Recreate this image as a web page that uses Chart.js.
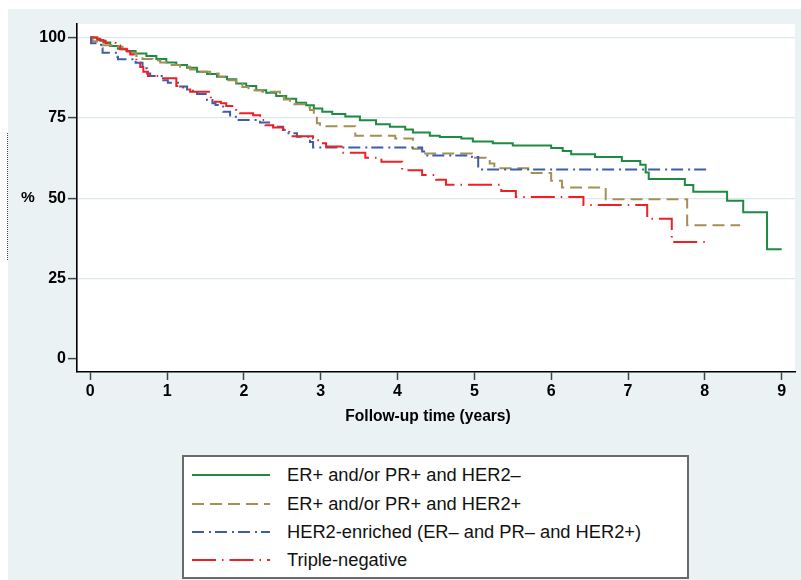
<!DOCTYPE html>
<html>
<head>
<meta charset="utf-8">
<script src="https://cdn.jsdelivr.net/npm/chart.js@4"></script>
<style>
  html, body { margin: 0; padding: 0; background: #ffffff; }
  #wrap { position: relative; width: 801px; height: 580px; overflow: hidden; font-family: "Liberation Sans", Arial, sans-serif; }
  #bg { position: absolute; left: 8px; top: 9px; width: 793px; height: 571px; background: #eaf2f3; }
  #c { position: absolute; left: 0; top: 0; }
  #pct { position: absolute; left: 21px; top: 188px; font-weight: bold; font-size: 15.5px; color: #000; }
  #xtitle { position: absolute; left: 0; width: 856px; top: 407px; text-align: center; font-weight: bold; font-size: 15.6px; color: #000; }
  #dots { position: absolute; left: 7px; top: 133px; height: 127px; border-left: 1px dotted #444; }
  #legend { position: absolute; left: 182px; top: 455px; width: 503px; height: 120px; background: #fff; border: 2px solid #6a6a6a; }
  .item { position: absolute; left: 8px; height: 22px; display: flex; align-items: center; font-size: 18.3px; color: #111; white-space: nowrap; }
  .item svg { width: 80px; height: 6px; margin-right: 15px; flex: none; }
</style>
</head>
<body>
<div id="wrap">
  <div id="bg"></div>
  <div id="dots"></div>
  <canvas id="c" width="801" height="440"></canvas>
  <div id="pct">%</div>
  <div id="xtitle">Follow-up time (years)</div>
  <div id="legend"></div>
</div>
<script>
// ---- data (time in years, survival in %) ----
const seriesNames = [
  "ER+ and/or PR+ and HER2\u2013",
  "ER+ and/or PR+ and HER2+",
  "HER2-enriched (ER\u2013 and PR\u2013 and HER2+)",
  "Triple-negative"
];
const xTickValues = [0, 1, 2, 3, 4, 5, 6, 7, 8, 9];
const yTickValues = [0, 25, 50, 75, 100];

const greenT = [0,0.09,0.17,0.26,0.36,0.47,0.59,0.73,0.86,0.99,1.12,1.26,1.39,1.52,1.65,1.78,1.90,2.03,2.16,2.29,2.42,2.55,2.68,2.81,2.91,3.02,3.15,3.32,3.51,3.72,3.90,4.10,4.20,4.42,4.55,4.83,4.98,5.24,5.50,6.00,6.15,6.26,6.57,6.92,7.16,7.23,7.27,7.74,7.85,8.29,8.50,8.81,9.00];
const greenS = [100,99.2,98.4,97.3,96.5,95.8,95.0,94.2,93.3,92.2,91.4,90.6,89.3,88.6,87.8,87.0,85.7,84.9,83.6,82.8,81.8,80.9,79.7,78.9,77.9,76.9,76.2,75.4,74.2,73.0,72.2,71.4,70.4,69.4,69.0,68.6,67.6,67.1,66.4,65.6,64.7,63.7,62.8,61.6,60.4,58.0,56.0,54.1,52.0,49.2,45.6,34.1,34.1];

const tanT = [0,0.03,0.09,0.33,0.42,0.52,0.60,0.68,0.81,0.91,1.04,1.17,1.30,1.43,1.56,1.67,1.80,1.90,1.98,2.06,2.24,2.47,2.52,2.60,2.80,2.86,2.91,2.95,2.99,3.45,3.97,4.20,4.32,4.97,5.15,5.20,5.26,5.70,6.00,6.14,6.71,7.77,8.46];
const tanS = [100,98.8,97.6,97.1,96.3,95.2,94.2,93.3,92.8,92.2,91.4,90.9,90.0,89.3,88.8,87.8,86.7,85.6,84.6,83.6,83.1,82.1,80.7,79.2,78.3,77.4,75.8,73.3,72.4,69.4,68.6,65.4,63.9,62.6,62.1,60.8,59.3,57.8,55.4,53.3,49.7,41.6,41.6];

const blueT = [0,0.01,0.14,0.16,0.35,0.36,0.59,0.68,0.74,0.78,0.95,1.01,1.17,1.26,1.39,1.52,1.59,1.63,1.73,1.82,1.91,2.21,2.38,2.51,2.56,2.69,2.86,2.90,4.32,4.36,4.97,5.05,8.07];
const blueS = [100,98.2,96.6,95.2,94.0,93.2,92.1,90.4,88.8,88.0,86.7,85.9,84.7,83.4,82.4,80.5,79.5,79.0,76.9,75.3,74.3,73.5,72.2,71.2,70.2,69.1,67.5,65.8,64.5,63.3,62.8,58.9,58.9];

const redT = [0,0.09,0.13,0.20,0.33,0.39,0.48,0.52,0.60,0.65,0.69,0.75,0.92,1.12,1.21,1.30,1.57,1.70,1.77,1.90,1.95,2.12,2.21,2.28,2.38,2.51,2.59,2.90,2.95,2.99,3.07,3.27,3.58,3.79,4.06,4.32,4.50,4.63,5.35,5.54,6.42,7.25,7.57,8.00];
const redS = [100,99.6,99.0,98.3,97.5,96.3,95.6,94.7,92.2,90.8,89.3,88.0,87.3,84.9,83.8,83.1,80.0,79.5,78.7,77.4,76.4,75.8,74.3,72.7,72.0,71.4,69.3,68.6,68.0,67.1,66.1,64.1,62.6,61.3,58.7,57.2,55.7,54.2,52.2,50.4,47.9,43.6,36.4,36.4];

// ---- styles ----
const colors = ['#1d8b42', '#a39055', '#3d5da9', '#ee2026'];
const dashes = [[], [12, 6], [12, 5, 2, 4], [24, 6, 1.5, 6]];

const pts = (T, S) => T.map((t, i) => ({ x: t, y: S[i] }));
const seriesData = [pts(greenT, greenS), pts(tanT, tanS), pts(blueT, blueS), pts(redT, redS)];

const plotBg = {
  id: 'plotBg',
  beforeDraw(chart) {
    const { ctx, chartArea: a } = chart;
    ctx.save();
    ctx.fillStyle = '#ffffff';
    ctx.fillRect(a.left, a.top, a.right - a.left, a.bottom - a.top);
    ctx.restore();
  }
};

const tickFont = { family: '"Liberation Sans", Arial, sans-serif', size: 16, weight: 'bold' };

new Chart(document.getElementById('c'), {
  type: 'line',
  data: {
    datasets: seriesData.map((d, i) => ({
      label: seriesNames[i],
      data: d,
      borderColor: colors[i],
      borderWidth: 2,
      borderDash: dashes[i],
      pointRadius: 0,
      fill: false,
      stepped: 'before',
      tension: 0
    })).reverse()
  },
  options: {
    responsive: false,
    animation: false,
    devicePixelRatio: 1,
    layout: { padding: { top: 24, right: 6, left: 0, bottom: 0 } },
    plugins: { legend: { display: false }, tooltip: { enabled: false } },
    scales: {
      x: {
        type: 'linear',
        min: -0.173,
        max: 9.174,
        afterBuildTicks(s) { s.ticks = xTickValues.map(v => ({ value: v })); },
        afterFit(s) { s.height = 68; },
        grid: { drawOnChartArea: false, drawTicks: true, tickLength: 8, tickColor: '#444', tickWidth: 1.5 },
        border: { display: true, color: '#000', width: 1.6 },
        ticks: { color: '#000', font: tickFont, padding: 2, maxRotation: 0, autoSkip: false, callback: v => String(v) }
      },
      y: {
        type: 'linear',
        min: -4.05,
        max: 104.17,
        afterBuildTicks(s) { s.ticks = yTickValues.map(v => ({ value: v })); },
        afterFit(s) { s.width = 77; },
        grid: {
          drawOnChartArea: true,
          drawTicks: true,
          tickLength: 9,
          color: ctx => (ctx.tick && ctx.tick.value === 0) ? 'rgba(0,0,0,0)' : '#dde8ee',
          tickColor: '#444',
          lineWidth: 1.2,
          tickWidth: 1.5
        },
        border: { display: true, color: '#000', width: 1.6 },
        ticks: { color: '#000', font: tickFont, padding: 2, autoSkip: false, callback: v => String(v) }
      }
    }
  },
  plugins: [plotBg]
});

// ---- legend (HTML) ----
const legend = document.getElementById('legend');
const rowTops = [7, 36, 64, 92];
seriesNames.forEach((name, i) => {
  const row = document.createElement('div');
  row.className = 'item';
  row.style.top = rowTops[i] + 'px';
  const dash = dashes[i].length ? dashes[i].join(' ') : 'none';
  row.innerHTML = '<svg viewBox="0 0 80 6"><line x1="0" y1="3" x2="78" y2="3" stroke="' + colors[i] +
    '" stroke-width="2" stroke-dasharray="' + dash + '"/></svg><span>' + name + '</span>';
  legend.appendChild(row);
});
</script>
</body>
</html>
